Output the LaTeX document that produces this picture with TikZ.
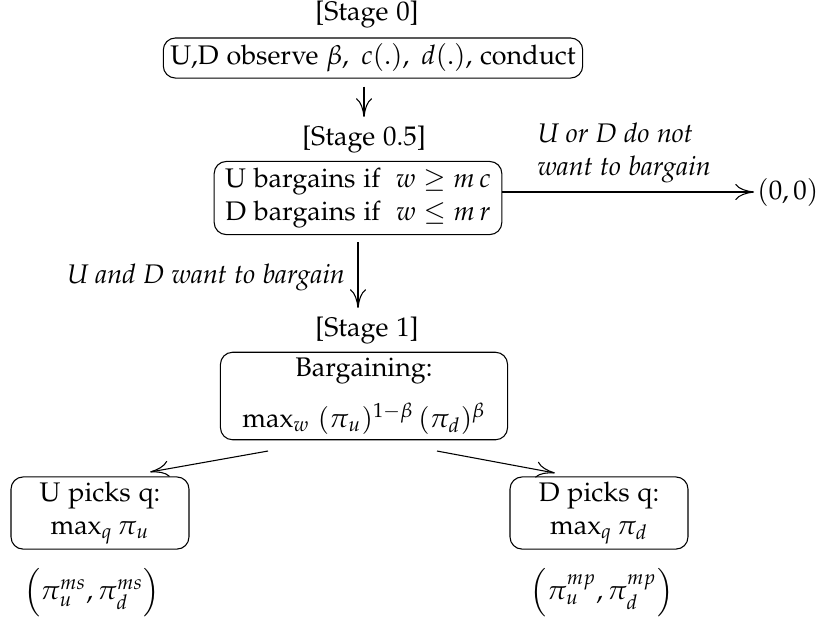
\documentclass[tikz,border=0pt]{standalone}
\usepackage[T1]{fontenc}
\usepackage[sc]{mathpazo}
\usepackage{amsmath}
\usetikzlibrary{arrows.meta}

\begin{document}
\begin{tikzpicture}[x=0.372pt, y=-0.372pt,
    stagebox/.style={draw, rounded corners=4.5pt, align=center, inner sep=2pt},
    arr/.style={-{To[length=7pt,width=6pt]}},
    note/.style={font=\itshape, align=left}]
      \useasboundingbox (0,0) rectangle (817,621);
      % Stages, boxes and arrows:
      \node (S0) at (367, 15) {[Stage 0]};
      \node[stagebox, minimum width=156pt, minimum height=14.9pt] (B0) at (373, 58)
            {U,D observe $\beta,\ c(.),\ d(.)$, conduct};
      \node (S05) at (364, 140) {[Stage 0.5]};
      \draw[arr, shorten <=3pt] (B0.south -| S05) -- (S05);
      \node[stagebox, minimum width=107pt, minimum height=27.2pt] (B05) at (358, 198)
            {U bargains if \ $w \geq m\,c$\\ D bargains if \ $w \leq m\,r$};
      \node[anchor=west, inner sep=1pt] (P0) at (754, 192) {$(0,0)$};
      \draw[arr] (B05.east |- P0) -- (P0.west);
      \node[note, anchor=west] (N1) at (528, 153) {U or D do not\\want to bargain};
      \node (S1) at (367, 331) {[Stage 1]};
      \draw[arr, shorten <=2.6pt] (B05.south) -- (B05.south |- S1.north);
      \node[note] (N2) at (206, 277) {U and D want to bargain};
      \node[stagebox, minimum width=106.8pt, minimum height=32pt] (B1) at (364, 396)
            {Bargaining:\\[7pt] $\max_w\ (\pi_u)^{1-\beta}\,(\pi_d)^{\beta}$};
      \node[stagebox, minimum width=66.2pt, minimum height=25.3pt] (BU) at (100, 513)
            {U picks q:\\ $\max_q \pi_u$};
      \node[stagebox, minimum width=66.2pt, minimum height=25.3pt] (BD) at (599, 513)
            {D picks q:\\ $\max_q \pi_d$};
      \coordinate (L0) at (268, 451);
      \coordinate (L1) at (150, 472);
      \coordinate (R0) at (437, 451);
      \coordinate (R1) at (555, 473);
      \draw[arr] (L0) -- (L1);
      \draw[arr] (R0) -- (R1);
      \node (PU) at (92, 593) {$\Bigl(\pi_u^{ms},\pi_d^{ms}\Bigr)$};
      \node (PD) at (602, 593) {$\Bigl(\pi_u^{mp},\pi_d^{mp}\Bigr)$};
    \end{tikzpicture}
\end{document}
